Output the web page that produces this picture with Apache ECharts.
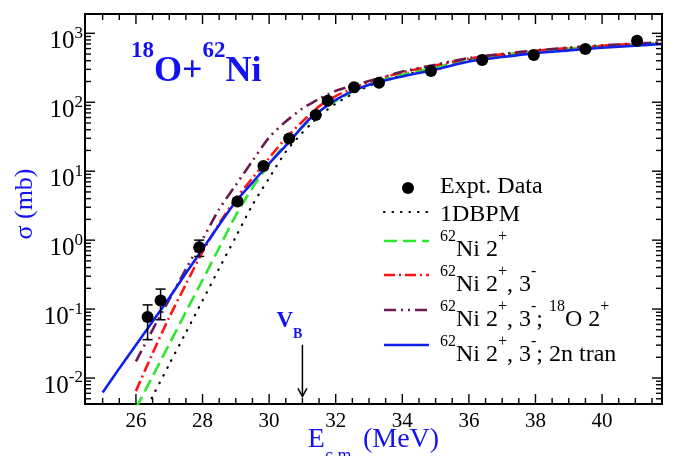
<!DOCTYPE html>
<html>
<head>
<meta charset="utf-8">
<script src="https://cdn.jsdelivr.net/npm/echarts@6/dist/echarts.min.js"></script>
<style>
  html, body { margin: 0; padding: 0; background: #fff; }
  #chart { width: 681px; height: 456px; }
</style>
</head>
<body>
<div id="chart"></div>
<script>
// Fusion excitation function, 18O + 62Ni: calculated curves on a shared energy grid (MeV, c.m.)
const energyGrid = [25, 25.5, 26, 26.5, 27, 27.5, 28, 28.5, 29, 29.5, 30, 30.5, 31, 31.25, 31.5,
                    32, 32.5, 33, 33.5, 34, 35, 36, 37, 38, 39, 40, 41, 41.8];

// cross sections in mb (null = not calculated at that energy)
const sigma1DBPM = [null, null, 0.00186, 0.00541, 0.0158, 0.0457, 0.133, 0.389, 1.12, 3.24, 7.94, 19.1, 36.3, 47.9, 63.1,
                    95.5, 132, 172, 209, 245, 313, 412, 482, 547, 600, 649, 692, 724];
const sigmaNi2 = [null, null, 0.00363, 0.0106, 0.0309, 0.0912, 0.263, 0.776, 2.29, 5.75, 12.6, 25.1, 43.7, 56.2, 72.4,
                  105, 141, 180, 216, 251, 320, 415, 484, 550, 603, 652, 695, 726];
const sigmaNi23 = [null, null, 0.00646, 0.0229, 0.0759, 0.229, 0.676, 1.74, 3.98, 7.94, 15.5, 30.2, 52.5, 67.6, 87.1,
                   123, 158, 197, 234, 272, 343, 429, 495, 558, 612, 661, 703, 733];
const sigmaNi23O2 = [null, null, 0.0174, 0.0501, 0.138, 0.380, 1.02, 2.82, 6.31, 14.1, 30.9, 52.5, 81.3, 95.5, 112,
                     146, 174, 204, 237, 279, 351, 437, 501, 565, 619, 668, 710, 738];
const sigmaNi23Tran = [0.00618, 0.0138, 0.0302, 0.0661, 0.145, 0.331, 0.741, 1.66, 3.63, 6.84, 12.9, 23.4, 44.2, 59.6, 73.3,
                       108, 145, 180, 209, 237, 299, 389, 452, 515, 565, 617, 661, 700];

// measured data with error limits (mb)
const exptEnergy = [26.35, 26.74, 27.9, 29.05, 29.83, 30.6, 31.4, 31.76, 32.55, 33.3, 34.86, 36.4, 37.95, 39.5, 41.05];
const exptSigma  = [0.0766, 0.133, 0.79, 3.62, 11.9, 29.7, 65.5, 105, 165, 192, 284, 410, 486, 592, 781];
const exptLow    = [0.036, 0.070, 0.58, 3.33, 10.9, 27.3, 60.3, 96.6, 152, 177, 261, 377, 447, 545, 719];
const exptHigh   = [0.115, 0.195, 1.0, 3.91, 12.9, 32.1, 70.7, 113, 178, 207, 307, 443, 525, 639, 843];

// Coulomb barrier marker
const barrierEnergy = 31.0;
const barrierArrow = [0.0304, 0.0054];

// axes
const xRange = [24.47, 41.8];
const yRange = [0.0042, 1905];
const xTickLabels = [26, 28, 30, 32, 34, 36, 38, 40];
const yTickLabels = [0.01, 0.1, 1, 10, 100, 1000];

const SERIF = '"Liberation Serif", "Times New Roman", serif';
const BLUE = '#1212f2';
const C_1DBPM = '#000000', C_NI2 = '#2ee62e', C_NI23 = '#ff1414', C_O2 = '#6a1b4f', C_TRAN = '#1020ee';

function pairs(values) {
  return energyGrid.map((e, i) => values[i] == null ? null : [e, values[i]]).filter(p => p);
}

// tick marks on all four sides, drawn inward
const tickData = [];
for (let v = 25; v <= 41.5 + 1e-9; v += 0.5) {
  tickData.push([v, 1, 0, xTickLabels.includes(v) ? 10 : 6]);
}
yTickLabels.forEach(v => tickData.push([30, v, 1, 10]));
for (let d = -3; d <= 2; d++) {
  for (let k = 2; k <= 9; k++) {
    const v = k * Math.pow(10, d);
    if (v > yRange[0] && v < yRange[1]) tickData.push([30, v, 1, 6]);
  }
}

function renderTick(params, api) {
  const cs = params.coordSys;
  const len = api.value(3);
  const st = { stroke: '#000', lineWidth: 1.4 };
  if (api.value(2) === 0) {
    const x = api.coord([api.value(0), 1])[0];
    return { type: 'group', children: [
      { type: 'line', shape: { x1: x, y1: cs.y + cs.height, x2: x, y2: cs.y + cs.height - len }, style: st },
      { type: 'line', shape: { x1: x, y1: cs.y, x2: x, y2: cs.y + len }, style: st }
    ] };
  }
  const y = api.coord([30, api.value(1)])[1];
  return { type: 'group', children: [
    { type: 'line', shape: { x1: cs.x, y1: y, x2: cs.x + len, y2: y }, style: st },
    { type: 'line', shape: { x1: cs.x + cs.width, y1: y, x2: cs.x + cs.width - len, y2: y }, style: st }
  ] };
}

function renderErrorBar(params, api) {
  const e = api.value(0);
  const lo = api.coord([e, api.value(2)]);
  const hi = api.coord([e, api.value(3)]);
  const st = { stroke: '#000', lineWidth: 1.5 };
  return { type: 'group', children: [
    { type: 'line', shape: { x1: lo[0], y1: lo[1], x2: hi[0], y2: hi[1] }, style: st },
    { type: 'line', shape: { x1: lo[0] - 5, y1: lo[1], x2: lo[0] + 5, y2: lo[1] }, style: st },
    { type: 'line', shape: { x1: hi[0] - 5, y1: hi[1], x2: hi[0] + 5, y2: hi[1] }, style: st }
  ] };
}

function renderBarrier(params, api) {
  const top = api.coord([api.value(0), api.value(1)]);
  const tip = api.coord([api.value(0), api.value(2)]);
  const st = { stroke: '#000', lineWidth: 1.5, fill: null };
  return { type: 'group', children: [
    { type: 'line', shape: { x1: top[0], y1: top[1], x2: tip[0], y2: tip[1] }, style: st },
    { type: 'polyline', shape: { points: [[tip[0] - 4.5, tip[1] - 8], [tip[0], tip[1]], [tip[0] + 4.5, tip[1] - 8]] }, style: st },
    { type: 'text', x: top[0] - 26, y: top[1] - 35, style: {
        text: '{m|V}{s|B}', fill: BLUE, verticalAlign: 'top',
        rich: {
          m: { fontSize: 23, fontWeight: 'bold', fontFamily: SERIF, fill: BLUE, lineHeight: 32, verticalAlign: 'top' },
          s: { fontSize: 14, fontWeight: 'bold', fontFamily: SERIF, fill: BLUE, verticalAlign: 'bottom' }
        } } }
  ] };
}

function curve(name, values, color, width, dash, cap) {
  return {
    name, type: 'line', data: pairs(values), showSymbol: false, smooth: 0.25,
    lineStyle: { color, width, type: dash, cap: cap || 'butt' }, z: 3, silent: true
  };
}

// legend rows: rich-text label with superscripts
const supRich = {
  s: { fontSize: 16, fontFamily: SERIF, fill: '#000', lineHeight: 33, verticalAlign: 'top' },
  m: { fontSize: 24, fontFamily: SERIF, fill: '#000', verticalAlign: 'bottom' }
};
const legendRows = [
  { kind: 'dot', y: 188, text: 'Expt. Data', textY: 187 },
  { kind: 'line', y: 212, color: C_1DBPM, width: 2.2, dash: [0.5, 8], cap: 'round', text: '1DBPM', textY: 215 },
  { kind: 'line', y: 241, color: C_NI2, width: 2.6, dash: [13, 6], text: '{s|62}{m|Ni 2}{s|+}', textY: 250 },
  { kind: 'line', y: 275, color: C_NI23, width: 2.6, dash: [11, 4, 2, 4], text: '{s|62}{m|Ni 2}{s|+}{m|, 3}{s|-}', textY: 285 },
  { kind: 'line', y: 310, color: C_O2, width: 2.6, dash: [12, 5, 2, 5, 2, 5], text: '{s|62}{m|Ni 2}{s|+}{m|, 3}{s|-}{m|; }{s|18}{m|O 2}{s|+}', textY: 320 },
  { kind: 'line', y: 345, color: C_TRAN, width: 2.6, dash: 'solid', text: '{s|62}{m|Ni 2}{s|+}{m|, 3}{s|-}{m|; 2n tran}', textY: 355 }
];
const legendGraphics = [];
legendRows.forEach(r => {
  if (r.kind === 'dot') {
    legendGraphics.push({ type: 'circle', shape: { cx: 408, cy: r.y, r: 6 }, style: { fill: '#000' } });
    legendGraphics.push({ type: 'text', x: 440, y: r.textY, style: { text: r.text, fontSize: 24, fontFamily: SERIF, fill: '#000', verticalAlign: 'middle' } });
  } else {
    legendGraphics.push({ type: 'line', shape: { x1: 384, y1: r.y, x2: 429, y2: r.y },
      style: { stroke: r.color, lineWidth: r.width, lineDash: r.dash === 'solid' ? null : r.dash, lineCap: r.cap || 'butt' } });
    if (r.text.indexOf('{') < 0) {
      legendGraphics.push({ type: 'text', x: 440, y: r.textY, style: { text: r.text, fontSize: 24, fontFamily: SERIF, fill: '#000', verticalAlign: 'middle' } });
    } else {
      legendGraphics.push({ type: 'text', x: 440, y: r.textY - 21, style: { text: r.text, fill: '#000', verticalAlign: 'top', rich: supRich } });
    }
  }
});

const option = {
  animation: false,
  backgroundColor: '#fff',
  grid: { left: 85, right: 19, top: 14, bottom: 52, outerBoundsMode: 'none', containLabel: false,
          show: true, borderColor: '#000', borderWidth: 2, backgroundColor: 'transparent' },
  xAxis: {
    type: 'value', min: xRange[0], max: xRange[1],
    axisLine: { show: false }, axisTick: { show: false }, splitLine: { show: false },
    axisLabel: { customValues: xTickLabels, fontSize: 21, fontFamily: SERIF, color: '#000', margin: 7 },
    name: '{m|E}{s|c.m.}{m| (MeV)}', nameLocation: 'middle', nameGap: 22, nameMoveOverlap: false,
    nameTextStyle: {
      color: BLUE,
      rich: {
        m: { fontSize: 28, fontFamily: SERIF, color: BLUE, lineHeight: 39, verticalAlign: 'top' },
        s: { fontSize: 18, fontFamily: SERIF, color: BLUE, verticalAlign: 'bottom' }
      }
    }
  },
  yAxis: {
    type: 'log', logBase: 10, min: yRange[0], max: yRange[1],
    axisLine: { show: false }, axisTick: { show: false }, splitLine: { show: false }, minorTick: { show: false },
    axisLabel: {
      customValues: yTickLabels, margin: 2,
      formatter: v => '{m|10}{s|' + Math.round(Math.log10(v)) + '}',
      rich: {
        m: { fontSize: 25, fontFamily: SERIF, color: '#000', verticalAlign: 'bottom' },
        s: { fontSize: 17, fontFamily: SERIF, color: '#000', lineHeight: 29, verticalAlign: 'top' }
      },
      padding: [12, 0, 0, 0]
    },
    name: 'σ (mb)', nameLocation: 'middle', nameGap: 47, nameRotate: 90, nameMoveOverlap: false,
    nameTextStyle: { color: BLUE, fontSize: 26, fontFamily: SERIF, padding: [0, 0, 0, 10] }
  },
  graphic: [
    { type: 'text', x: 131, y: 40, style: {
        text: '{s|18}{m|O+}{s|62}{m|Ni}', fill: BLUE, verticalAlign: 'top',
        rich: {
          s: { fontSize: 23, fontWeight: 'bold', fontFamily: SERIF, fill: BLUE, lineHeight: 50, verticalAlign: 'top' },
          m: { fontSize: 36, fontWeight: 'bold', fontFamily: SERIF, fill: BLUE, verticalAlign: 'bottom' }
        } } }
  ].concat(legendGraphics),
  series: [
    { type: 'custom', name: 'ticks', data: tickData, renderItem: renderTick, encode: { x: 0, y: 1 }, silent: true, z: 6 },
    curve('1DBPM', sigma1DBPM, C_1DBPM, 2.2, [0.5, 8], 'round'),
    curve('62Ni 2+', sigmaNi2, C_NI2, 2.6, [13, 6]),
    curve('62Ni 2+, 3-', sigmaNi23, C_NI23, 2.6, [11, 4, 2, 4]),
    curve('62Ni 2+, 3-; 18O 2+', sigmaNi23O2, C_O2, 2.6, [12, 5, 2, 5, 2, 5]),
    curve('62Ni 2+, 3-; 2n tran', sigmaNi23Tran, C_TRAN, 2.6, 'solid'),
    { type: 'custom', name: 'errors', renderItem: renderErrorBar, encode: { x: 0, y: 1 }, z: 4, silent: true,
      data: exptEnergy.map((e, i) => [e, exptSigma[i], exptLow[i], exptHigh[i]]) },
    { type: 'scatter', name: 'Expt. Data', symbol: 'circle', symbolSize: 12, itemStyle: { color: '#000', opacity: 1 }, z: 5, silent: true,
      data: exptEnergy.map((e, i) => [e, exptSigma[i]]) },
    { type: 'custom', name: 'barrier', renderItem: renderBarrier, encode: { x: 0, y: 1 }, z: 6, silent: true,
      data: [[barrierEnergy, barrierArrow[0], barrierArrow[1]]] }
  ]
};

const chart = echarts.init(document.getElementById('chart'));
chart.setOption(option);
</script>
</body>
</html>
